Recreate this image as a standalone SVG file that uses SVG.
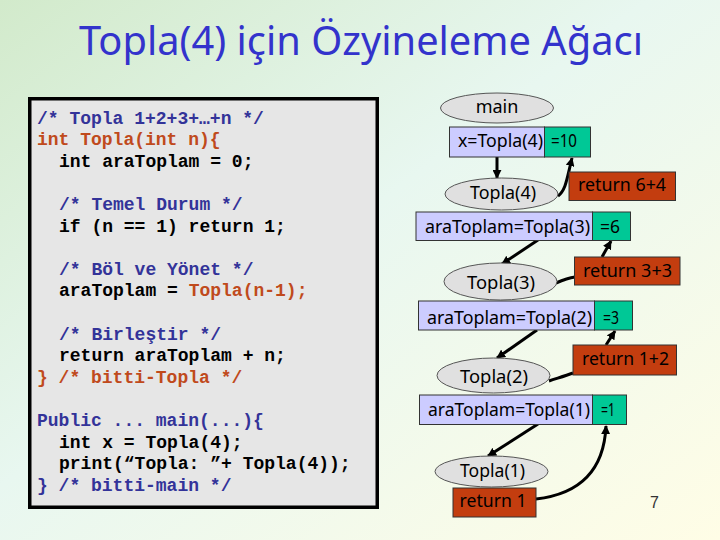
<svg xmlns="http://www.w3.org/2000/svg" width="720" height="540" viewBox="0 0 720 540">
<defs>
<linearGradient id="bg" x1="0" y1="0" x2="1" y2="1">
<stop offset="0" stop-color="#d2eacb"/>
<stop offset="0.45" stop-color="#e8f7f0"/>
<stop offset="1" stop-color="#fffde6"/>
</linearGradient>
<marker id="ah" viewBox="0 0 10 10" refX="9" refY="5" markerWidth="9" markerHeight="9" markerUnits="userSpaceOnUse" orient="auto">
<path d="M0,0 L10,5 L0,10 z" fill="#000"/>
</marker>
<style>
.code{font-family:"Liberation Mono","Courier New",monospace;font-weight:bold;font-size:18px}
.cb{fill:#333399}.cr{fill:#c04a1c}.ck{fill:#000}
.lbl{font-family:"Noto Sans","Open Sans",sans-serif;font-size:18px;fill:#000}
.rt{font-weight:normal}
.ell{fill:#e0e0e0;stroke:#555;stroke-width:1}
.lav{fill:#ccccff;stroke:#333;stroke-width:1}
.grn{fill:#00c896;stroke:#333;stroke-width:1}
.red{fill:#c33d0f;stroke:#333;stroke-width:1}
.conn{fill:none;stroke:#000;stroke-width:3}
</style>
</defs>
<rect x="0" y="0" width="720" height="540" fill="url(#bg)"/>
<text x="79" y="55" font-family="Noto Sans, Open Sans, sans-serif" font-size="40" fill="#3333cc" textLength="564" lengthAdjust="spacingAndGlyphs">Topla(4) için Özyineleme Ağacı</text>

<g id="code">
<rect x="29.75" y="98.75" width="347.5" height="408.5" fill="#e6e6e6" stroke="#000" stroke-width="3.5"/>
<text class="code cb" x="37" y="123.5">/* Topla 1+2+3+…+n */</text>
<text class="code cr" x="37" y="145.1">int Topla(int n){</text>
<text class="code ck" x="59" y="166.7">int araToplam = 0;</text>
<text class="code cb" x="59" y="209.9">/* Temel Durum */</text>
<text class="code ck" x="59" y="231.5">if (n == 1) return 1;</text>
<text class="code cb" x="59" y="274.7">/* Böl ve Yönet */</text>
<text class="code ck" x="59" y="296.3">araToplam = <tspan class="cr">Topla(n-1);</tspan></text>
<text class="code cb" x="59" y="339.5">/* Birleştir */</text>
<text class="code ck" x="59" y="361.1">return araToplam + n;</text>
<text class="code cr" x="37" y="382.7">} /* bitti-Topla */</text>
<text class="code cb" x="37" y="425.9">Public ... main(...){</text>
<text class="code ck" x="59" y="447.5">int x = Topla(4);</text>
<text class="code ck" x="59" y="469.1">print(“Topla: ”+ Topla(4));</text>
<text class="code cb" x="37" y="490.7">} /* bitti-main */</text>
</g>

<g id="connectors">
<path class="conn" d="M497,157 L497,178" marker-end="url(#ah)"/>
<path class="conn" d="M558,196 C566,190 567,178 572,158" marker-end="url(#ah)"/>
<path class="conn" d="M538,240 L502,264" marker-end="url(#ah)"/>
<path class="conn" d="M556,283 C563,280 568,278 575,277"/>
<path class="conn" d="M602,257 L611,241" marker-end="url(#ah)"/>
<path class="conn" d="M537,330 L497,358" marker-end="url(#ah)"/>
<path class="conn" d="M549,381 C558,378 565,376 573,373"/>
<path class="conn" d="M606,345 L615,331" marker-end="url(#ah)"/>
<path class="conn" d="M538,424 L488,456" marker-end="url(#ah)"/>
<path class="conn" d="M536,499 C580,494 604,470 606,426" marker-end="url(#ah)"/>
</g>

<g id="main">
<ellipse class="ell" cx="497" cy="108" rx="56.5" ry="15"/>
<text class="lbl" x="497" y="113" text-anchor="middle">main</text>
</g>
<g id="call4">
<rect class="lav" x="449.5" y="127" width="95" height="30"/>
<rect class="grn" x="544.5" y="127" width="46" height="30"/>
<text class="lbl" x="458" y="147" textLength="85" lengthAdjust="spacingAndGlyphs">x=Topla(4)</text>
<text class="lbl" x="551" y="147" textLength="26" lengthAdjust="spacingAndGlyphs">=10</text>
</g>
<g id="topla4">
<ellipse class="ell" cx="501.5" cy="194" rx="56.5" ry="16"/>
<text class="lbl" x="470" y="199" textLength="66" lengthAdjust="spacingAndGlyphs">Topla(4)</text>
</g>
<g id="ret4">
<rect class="red" x="569" y="172" width="106.5" height="28.5"/>
<text class="lbl rt" x="578" y="191" textLength="88" lengthAdjust="spacingAndGlyphs">return 6+4</text>
</g>
<g id="call3">
<rect class="lav" x="416" y="212" width="176.5" height="28.5"/>
<rect class="grn" x="592.5" y="212" width="38" height="28.5"/>
<text class="lbl" x="425" y="233" textLength="165" lengthAdjust="spacingAndGlyphs">araToplam=Topla(3)</text>
<text class="lbl" x="600" y="233" textLength="20" lengthAdjust="spacingAndGlyphs">=6</text>
</g>
<g id="topla3">
<ellipse class="ell" cx="500.5" cy="281.5" rx="56.5" ry="18.5"/>
<text class="lbl" x="467" y="289" textLength="68" lengthAdjust="spacingAndGlyphs">Topla(3)</text>
</g>
<g id="ret3">
<rect class="red" x="574.5" y="257" width="105.5" height="28"/>
<text class="lbl rt" x="583" y="277" textLength="89" lengthAdjust="spacingAndGlyphs">return 3+3</text>
</g>
<g id="call2">
<rect class="lav" x="418.5" y="301" width="176" height="29"/>
<rect class="grn" x="594.5" y="301" width="38" height="29"/>
<text class="lbl" x="427" y="324" textLength="165" lengthAdjust="spacingAndGlyphs">araToplam=Topla(2)</text>
<text class="lbl" x="603" y="324" textLength="16" lengthAdjust="spacingAndGlyphs">=3</text>
</g>
<g id="topla2">
<ellipse class="ell" cx="493.5" cy="375.5" rx="56.5" ry="17.5"/>
<text class="lbl" x="460" y="383" textLength="68" lengthAdjust="spacingAndGlyphs">Topla(2)</text>
</g>
<g id="ret2">
<rect class="red" x="573" y="345" width="103.5" height="30"/>
<text class="lbl rt" x="582" y="365" textLength="87" lengthAdjust="spacingAndGlyphs">return 1+2</text>
</g>
<g id="call1">
<rect class="lav" x="419.5" y="395" width="173" height="29.5"/>
<rect class="grn" x="592.5" y="395" width="34" height="29.5"/>
<text class="lbl" x="428" y="416" textLength="162" lengthAdjust="spacingAndGlyphs">araToplam=Topla(1)</text>
<text class="lbl" x="601" y="416" textLength="14" lengthAdjust="spacingAndGlyphs">=1</text>
</g>
<g id="topla1">
<ellipse class="ell" cx="491.5" cy="471.5" rx="56.5" ry="15.5"/>
<text class="lbl" x="460" y="477" textLength="65" lengthAdjust="spacingAndGlyphs">Topla(1)</text>
</g>
<g id="ret1">
<rect class="red" x="453" y="488" width="83" height="29"/>
<text class="lbl rt" x="459.5" y="507" textLength="67" lengthAdjust="spacingAndGlyphs">return 1</text>
</g>
<text x="650" y="508" font-family="Liberation Sans, Arial, sans-serif" font-size="16" fill="#333">7</text>
</svg>
